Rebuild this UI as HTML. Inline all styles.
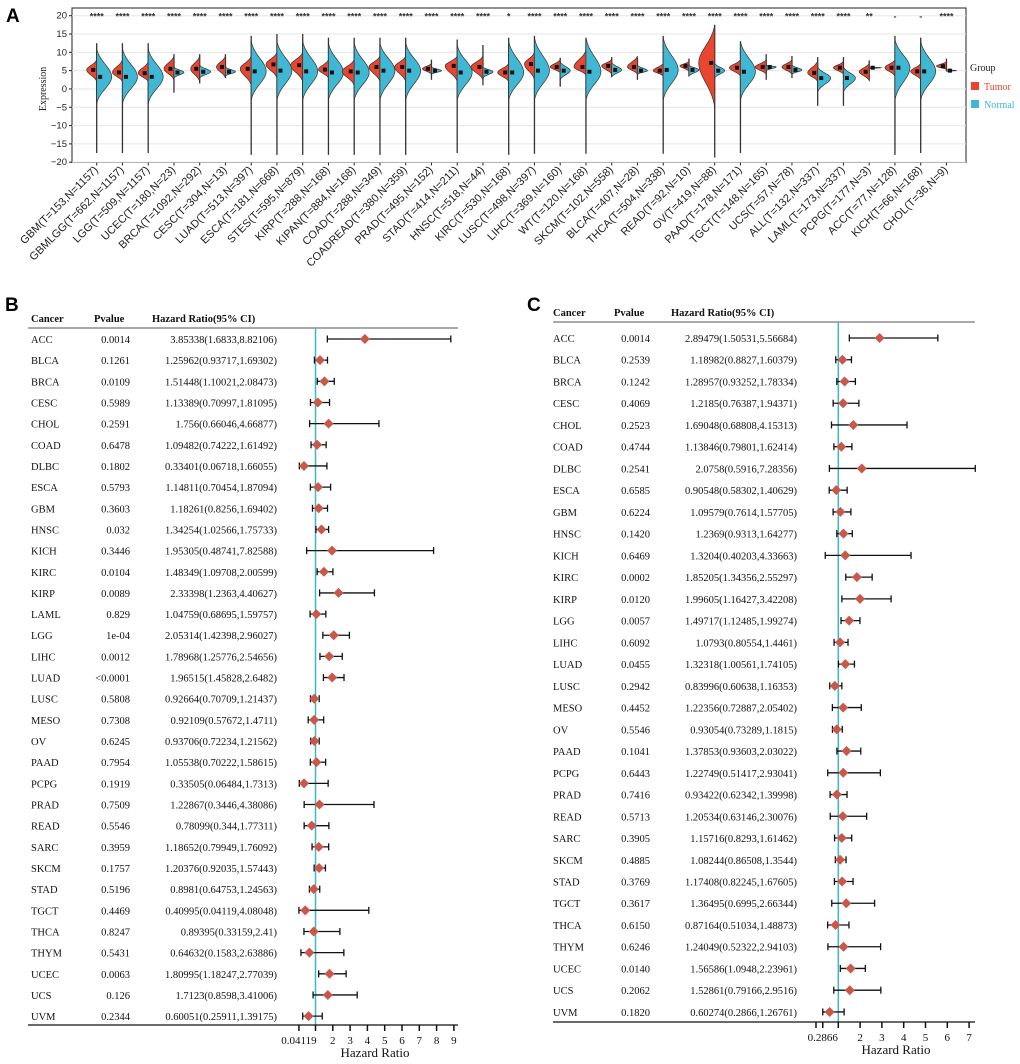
<!DOCTYPE html>
<html><head><meta charset="utf-8">
<style>
body{margin:0;background:#fff;}
svg{display:block;}
.ser{font-family:"Liberation Serif",serif;}
.san{font-family:"Liberation Sans",sans-serif;}
</style></head>
<body>
<svg id="fig" width="1020" height="1064" viewBox="0 0 1020 1064" xmlns="http://www.w3.org/2000/svg">
<text x="6" y="22" class="san" font-size="19" font-weight="bold">A</text>
<text x="5" y="311" class="san" font-size="19" font-weight="bold">B</text>
<text x="527" y="311" class="san" font-size="19" font-weight="bold">C</text>
<g id="pa"></g>
<g id="pb"></g>
<g id="pc"></g>
</svg>
<script>
// ---------- Panel A data ----------
const categories=["GBM","GBMLGG","LGG","UCEC","BRCA","CESC","LUAD","ESCA","STES","KIRP","KIPAN","COAD","COADREAD","PRAD","STAD","HNSC","KIRC","LUSC","LIHC","WT","SKCM","BLCA","THCA","READ","OV","PAAD","TGCT","UCS","ALL","LAML","PCPG","ACC","KICH","CHOL"];
const sampleSizes=["T=153,N=1157","T=662,N=1157","T=509,N=1157","T=180,N=23","T=1092,N=292","T=304,N=13","T=513,N=397","T=181,N=668","T=595,N=879","T=288,N=168","T=884,N=168","T=288,N=349","T=380,N=359","T=495,N=152","T=414,N=211","T=518,N=44","T=530,N=168","T=498,N=397","T=369,N=160","T=120,N=168","T=102,N=558","T=407,N=28","T=504,N=338","T=92,N=10","T=419,N=88","T=178,N=171","T=148,N=165","T=57,N=78","T=132,N=337","T=173,N=337","T=177,N=3","T=77,N=128","T=66,N=168","T=36,N=9"];
const stars=["****","****","****","****","****","****","****","****","****","****","****","****","****","****","****","****","*","****","****","****","****","****","****","****","****","****","****","****","****","****","**","-","-","****"];
const tumorMed=[5.2,4.5,4.3,5.5,5.5,6,5.5,6.7,6.5,5.3,4.8,6,6,5.5,6.3,6,4.5,6.8,6,6,6.3,6,5,6.3,7.1,5.8,6,6,4.4,5.8,4.7,5.8,4.8,6.2];
const tumorTop=[8,8,7.5,9,9,9,9,10,10,8,8,9,9,7,9,9,7,10,8,10.6,8.1,9,7,7.5,17.5,8,8,8,7.7,7.5,7,8,7,7.5];
const tumorBot=[2,2,2,2.5,2,3,1,3,2,3,1,2,2,4,2,2.5,2,2.5,4.4,3.8,4,4,3.5,4.8,-5,3.5,4,4,2,4,2.3,3.5,2.5,5.3];
const tumorDensity=[10,10,10,10,9,9,11,11,12,10,12,11,11,9,12,12,11,10,10,12,10,10,10,9,16,11,11,10,10,10,10,10,10,10];
const normalMed=[3.3,3.3,3.3,4.5,4.7,4.7,4.8,5,4.8,4.5,4.5,5,5,5,4.5,4.7,4.5,5,5,4.7,5.2,5,5.2,5.2,5,4.7,6,5.2,3,3,5.8,5.8,4.8,5];
const normalTop=[11,11,11,6,6.5,6,13,13,13,12.5,12.5,12.5,12.5,6,12,6,13,14,7.4,14,7.2,6.5,14,6.5,7,13,6.5,6.5,6,6,6,13.5,13,5.3];
const normalBot=[-4,-4,-4,3,3,3.5,-3,-3,-3,-3,-3,-3,-3,4,-3,3,-3,-3,2.5,-3,3.3,4,-3,3.5,3,-3,5,4,-0.8,-0.8,5.5,-3,-3,4.8];
const normalDensity=[15,15,15,10,11,10,15,15,15,15,15,15,15,10,15,10,15,15,10,15,10,10,15,10,10,15,10,10,13,12,12,15,15,10];
const rangeTop=[12.5,12.5,12.5,9.5,9.5,9.5,14.5,15,15,14,14,14,14,8,13.5,12,14,14.5,8.5,14,8.7,8.5,14.5,8.3,17.5,13,9.5,9,8.7,8.7,7.8,14.5,14,8.3];
const rangeBot=[-17.5,-17.5,-17.5,-1,1.5,3,-18,-18,-18,-18,-18,-18,-18,2.5,-17.5,1,-18,-17.7,0.6,-17.7,3.3,2.5,-17.7,3.5,-18.7,-17.5,2.5,3,-4.6,-4.6,2.3,-18,-17.5,5];
const yTicks=[20,15,10,5,0,-5,-10,-15,-20];

// ---------- Panel B data ----------
const bCancer=["ACC","BLCA","BRCA","CESC","CHOL","COAD","DLBC","ESCA","GBM","HNSC","KICH","KIRC","KIRP","LAML","LGG","LIHC","LUAD","LUSC","MESO","OV","PAAD","PCPG","PRAD","READ","SARC","SKCM","STAD","TGCT","THCA","THYM","UCEC","UCS","UVM"];
const bPvalue=["0.0014","0.1261","0.0109","0.5989","0.2591","0.6478","0.1802","0.5793","0.3603","0.032","0.3446","0.0104","0.0089","0.829","1e-04","0.0012","<0.0001","0.5808","0.7308","0.6245","0.7954","0.1919","0.7509","0.5546","0.3959","0.1757","0.5196","0.4469","0.8247","0.5431","0.0063","0.126","0.2344"];
const bHR=[3.85338,1.25962,1.51448,1.13389,1.756,1.09482,0.33401,1.14811,1.18261,1.34254,1.95305,1.48349,2.33398,1.04759,2.05314,1.78968,1.96515,0.92664,0.92109,0.93706,1.05538,0.33505,1.22867,0.78099,1.18652,1.20376,0.8981,0.40995,0.89395,0.64632,1.80995,1.7123,0.60051];
const bLow=[1.6833,0.93717,1.10021,0.70997,0.66046,0.74222,0.06718,0.70454,0.8256,1.02566,0.48741,1.09708,1.2363,0.68695,1.42398,1.25776,1.45828,0.70709,0.57672,0.72234,0.70222,0.06484,0.3446,0.344,0.79949,0.92035,0.64753,0.04119,0.33159,0.1583,1.18247,0.8598,0.25911];
const bHigh=[8.82106,1.69302,2.08473,1.81095,4.66877,1.61492,1.66055,1.87094,1.69402,1.75733,7.82588,2.00599,4.40627,1.59757,2.96027,2.54656,2.6482,1.21437,1.4711,1.21562,1.58615,1.7313,4.38086,1.77311,1.76092,1.57443,1.24563,4.08048,2.41,2.63886,2.77039,3.41006,1.39175];
const bTicks=["0.04119","1","2","3","4","5","6","7","8","9"];

// ---------- Panel C data ----------
const cCancer=["ACC","BLCA","BRCA","CESC","CHOL","COAD","DLBC","ESCA","GBM","HNSC","KICH","KIRC","KIRP","LGG","LIHC","LUAD","LUSC","MESO","OV","PAAD","PCPG","PRAD","READ","SARC","SKCM","STAD","TGCT","THCA","THYM","UCEC","UCS","UVM"];
const cPvalue=["0.0014","0.2539","0.1242","0.4069","0.2523","0.4744","0.2541","0.6585","0.6224","0.1420","0.6469","0.0002","0.0120","0.0057","0.6092","0.0455","0.2942","0.4452","0.5546","0.1041","0.6443","0.7416","0.5713","0.3905","0.4885","0.3769","0.3617","0.6150","0.6246","0.0140","0.2062","0.1820"];
const cHR=[2.89479,1.18982,1.28957,1.2185,1.69048,1.13846,2.0758,0.90548,1.09579,1.2369,1.3204,1.85205,1.99605,1.49717,1.0793,1.32318,0.83996,1.22356,0.93054,1.37853,1.22749,0.93422,1.20534,1.15716,1.08244,1.17408,1.36495,0.87164,1.24049,1.56586,1.52861,0.60274];
const cLow=[1.50531,0.8827,0.93252,0.76387,0.68808,0.79801,0.5916,0.58302,0.7614,0.9313,0.40203,1.34356,1.16427,1.12485,0.80554,1.00561,0.60638,0.72887,0.73289,0.93603,0.51417,0.62342,0.63146,0.8293,0.86508,0.82245,0.6995,0.51034,0.52322,1.0948,0.79166,0.2866];
const cHigh=[5.56684,1.60379,1.78334,1.94371,4.15313,1.62414,7.28356,1.40629,1.57705,1.64277,4.33663,2.55297,3.42208,1.99274,1.4461,1.74105,1.16353,2.05402,1.1815,2.03022,2.93041,1.39998,2.30076,1.61462,1.3544,1.67605,2.66344,1.48873,2.94103,2.23961,2.9516,1.26761];
const cTicks=["0.2866","1","2","3","4","5","6","7"];

const NS="http://www.w3.org/2000/svg";
function mk(parent,tag,attrs,text){const e=document.createElementNS(NS,tag);for(const k in attrs)e.setAttribute(k,attrs[k]);if(text!==undefined)e.textContent=text;parent.appendChild(e);return e;}

// ---------- Panel A ----------
(function(){
const g=document.getElementById('pa');
const L=72,R=966,T=8,B=162.5;
const y=v=>15.7+(20-v)*(146.5/40);
const x=i=>96.7+i*25.75;
mk(g,'rect',{x:L,y:T,width:R-L,height:B-T,fill:'#fff',stroke:'#222','stroke-width':1});
yTicks.forEach(t=>{
  const gl=mk(g,'line',{x1:L,x2:R,y1:y(t),y2:y(t),stroke:'#e6e6e6','stroke-width':1});
  
  
  mk(g,'line',{x1:L-3,x2:L,y1:y(t),y2:y(t),stroke:'#222'});
  const tl=mk(g,'text',{x:L-5,y:y(t)+3,'text-anchor':'end','font-size':9.5,fill:'#222',class:'san'},t<0?'\u2212'+(-t):String(t));
  
  
});
const yt=mk(g,'text',{x:0,y:0,transform:`translate(46,${y(0)}) rotate(-90)`,'text-anchor':'middle','font-size':10,class:'ser',fill:'#222'},'Expression');


function half(cx,side,top,bot,med,w){
  const yt=y(top),yb=y(bot),ym=y(med);let d=`M${cx},${yt}`;
  const N=24;
  for(let k=0;k<=N;k++){const yy=yt+(yb-yt)*k/N;let u=yy<ym?(ym-yy)/Math.max(ym-yt,0.1):(yy-ym)/Math.max(yb-ym,0.1);
    const f=(Math.exp(-2.6*u*u)-Math.exp(-2.6))/(1-Math.exp(-2.6));d+=` L${cx+side*w*f},${yy}`;}
  return d+` L${cx},${yb} Z`;
}
categories.forEach((c,i)=>{
  const cx=x(i);
  const gg=mk(g,'g',{});
  
  
  mk(gg,'line',{x1:cx,x2:cx,y1:y(rangeTop[i]),y2:y(rangeBot[i]),stroke:'#333','stroke-width':1.3});
  const pt=mk(gg,'path',{d:half(cx,-1,tumorTop[i],tumorBot[i],tumorMed[i],tumorDensity[i]),fill:'#e8462f',stroke:'#333','stroke-width':0.7});
  
  
  const pn=mk(gg,'path',{d:half(cx,1,normalTop[i],normalBot[i],normalMed[i],normalDensity[i]),fill:'#40b8d3',stroke:'#333','stroke-width':0.7});
  
  
  mk(gg,'rect',{x:cx-5.5,y:y(tumorMed[i])-2,width:4,height:4,fill:'#111'});
  mk(gg,'rect',{x:cx+1.5,y:y(normalMed[i])-2,width:4,height:4,fill:'#111'});
  mk(g,'line',{x1:cx,x2:cx,y1:B,y2:B+3,stroke:'#222'});
  const st=mk(g,'text',{x:cx,y:19.5,'text-anchor':'middle','font-size':9,'font-weight':'bold',fill:'#333',class:'san'},stars[i]);
  
  
  const lb=mk(g,'text',{x:0,y:0,transform:`translate(${cx+2},${B+8}) rotate(-45)`,'text-anchor':'end','font-size':11,fill:'#222',class:'san'},c+'('+sampleSizes[i]+')');
  
  
});
const lg=mk(g,'g',{});


mk(lg,'text',{x:970,y:71,'font-size':10,class:'ser',fill:'#222'},'Group');
mk(lg,'rect',{x:971,y:82,width:8,height:8,fill:'#e8462f'});
mk(lg,'text',{x:984,y:90,'font-size':10,class:'ser',fill:'#e8462f'},'Tumor');
mk(lg,'rect',{x:971,y:100,width:8,height:8,fill:'#40b8d3'});
mk(lg,'text',{x:984,y:108,'font-size':10,class:'ser',fill:'#40b8d3'},'Normal');
})();

// ---------- Forest plot builder ----------
function forest(gid,cfg){
  const g=document.getElementById(gid);
  const x=v=>cfg.x1+(v-1)*cfg.unit;
  const row=i=>cfg.r0+i*cfg.dr;
  const hdr=[['Cancer',cfg.cCancer],['Pvalue',cfg.cPh],['Hazard Ratio(95% CI)',cfg.cHh]];
  hdr.forEach(h=>{const t=mk(g,'text',{x:h[1],y:cfg.hy,'font-size':10.5,'font-weight':'bold',class:'ser',fill:'#111'},h[0]);
    
    });
  mk(g,'line',{x1:cfg.lx,x2:cfg.rx,y1:cfg.hy+6,y2:cfg.hy+6,stroke:'#555','stroke-width':1});
  mk(g,'line',{x1:x(1),x2:x(1),y1:cfg.hy+6,y2:cfg.ay,stroke:'#3cb8c8','stroke-width':1.5});
  cfg.names.forEach((n,i)=>{
    const yy=row(i);
    const rg=mk(g,'g',{});
    
    
    mk(rg,'text',{x:cfg.cCancer,y:yy+4,'font-size':10.5,class:'ser',fill:'#111'},n);
    mk(rg,'text',{x:cfg.cP,y:yy+4,'font-size':10.5,class:'ser',fill:'#111','text-anchor':'end'},cfg.p[i]);
    mk(rg,'text',{x:cfg.cH,y:yy+4,'font-size':10.5,class:'ser',fill:'#111','text-anchor':'end'},cfg.hr[i].toString()+'('+cfg.lo[i]+','+cfg.hi[i]+')');
    const xl=x(cfg.lo[i]),xh=x(cfg.hi[i]);
    mk(rg,'line',{x1:xl,x2:xh,y1:yy,y2:yy,stroke:'#111','stroke-width':1.3});
    mk(rg,'line',{x1:xl,x2:xl,y1:yy-3.5,y2:yy+3.5,stroke:'#111','stroke-width':1.3});
    mk(rg,'line',{x1:xh,x2:xh,y1:yy-3.5,y2:yy+3.5,stroke:'#111','stroke-width':1.3});
    const xm=x(cfg.hr[i]);
    const dm=mk(rg,'path',{d:`M${xm-5},${yy} L${xm},${yy-5} L${xm+5},${yy} L${xm},${yy+5} Z`,fill:'#c9574a'});
    
    
  });
  mk(g,'line',{x1:cfg.lx,x2:cfg.rx,y1:cfg.ay,y2:cfg.ay,stroke:'#111','stroke-width':1.2});
  cfg.extraTicks.forEach(px=>mk(g,'line',{x1:px,x2:px,y1:cfg.ay,y2:cfg.ay+6,stroke:'#111','stroke-width':1.5}));
  cfg.ticks.forEach(t=>{const v=parseFloat(t);mk(g,'line',{x1:x(v),x2:x(v),y1:cfg.ay,y2:cfg.ay+6,stroke:'#111','stroke-width':1.5});
    if(t!=='1'){const tl=mk(g,'text',{x:x(v),y:cfg.ay+19,'font-size':11,class:'ser',fill:'#111','text-anchor':'middle'},t);
      
      }});
  const at=mk(g,'text',{x:cfg.titleX,y:cfg.ay+32,'font-size':13,class:'ser',fill:'#111','text-anchor':'middle'},'Hazard Ratio');
  
  
}
forest('pb',{names:bCancer,p:bPvalue,hr:bHR,lo:bLow,hi:bHigh,ticks:bTicks,extraTicks:[],
  x1:315.5,unit:17.3,r0:339,dr:21.16,hy:322,ay:1025,lx:28,rx:458,cCancer:31,cPh:94,cHh:152,cP:130,cH:277,titleX:375});
forest('pc',{names:cCancer,p:cPvalue,hr:cHR,lo:cLow,hi:cHigh,ticks:cTicks,extraTicks:[816],
  x1:838.3,unit:21.8,r0:338,dr:21.74,hy:316,ay:1022,lx:553,rx:975,cCancer:553,cPh:614,cHh:671,cP:650,cH:797,titleX:896});
</script>
</body></html>
